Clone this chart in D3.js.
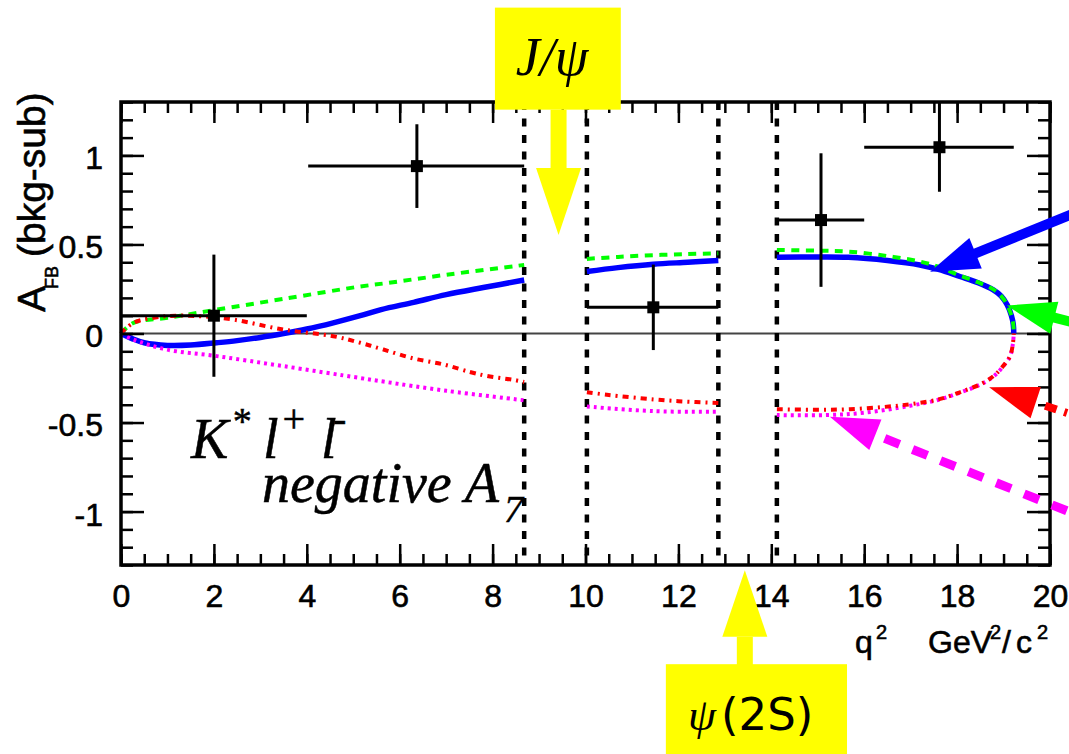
<!DOCTYPE html>
<html>
<head>
<meta charset="utf-8">
<script src="https://cdn.jsdelivr.net/npm/d3@7"></script>
<style>
body { margin: 0; background: #fff; }
svg { display: block; }
</style>
</head>
<body>
<svg width="1069" height="754"></svg>
<script>
// measured A_FB bins (bkg subtracted)
var binQ2  = [2.0, 6.37, 11.46, 15.07, 17.62];
var binLo  = [0.0, 4.03, 10.03, 14.12, 16.0];
var binHi  = [4.0, 8.68, 12.86, 16.0, 19.22];
var binAfb = [0.10, 0.94, 0.147, 0.637, 1.046];
var binErr = [0.343, 0.235, 0.24, 0.375, 0.25];

// charmonium veto boundaries
var vetoQ2 = [8.68, 10.03, 12.86, 14.12];

// model curves, null = gap at the vetoes
var qBlue   = [0, 0.25, 0.5, 1.0, 1.5, 2.06, 2.5, 3.0, 3.5, 4.0, 4.57, 5.15, 5.6, 6.3, 7.0, 7.8, 8.68, null,
               10.03, 10.7, 11.46, 12.2, 12.86, null,
               14.12, 15.0, 15.66, 16.5, 17.2, 17.6, 18.06, 18.45, 18.78, 18.95, 19.08, 19.17, 19.21, 19.22];
var afbBlue = [0, -0.03, -0.052, -0.067, -0.065, -0.052, -0.04, -0.022, 0.0, 0.025, 0.06, 0.10, 0.134, 0.175, 0.218, 0.258, 0.30, null,
               0.348, 0.37, 0.389, 0.40, 0.41, null,
               0.428, 0.43, 0.428, 0.41, 0.385, 0.36, 0.32, 0.285, 0.245, 0.21, 0.16, 0.10, 0.05, 0.0];

var qGreen   = [0, 0.27, 1.0, 2.06, 3.49, 5.15, 5.72, 7.01, 8.68, null,
                10.03, 10.7, 11.46, 12.2, 12.86, null,
                14.12, 15.0, 15.66, 16.5, 17.2, 17.6, 18.06, 18.45, 18.78, 18.95, 19.08, 19.17, 19.21, 19.22];
var afbGreen = [0, 0.06, 0.088, 0.134, 0.194, 0.264, 0.283, 0.33, 0.385, null,
                0.419, 0.43, 0.44, 0.446, 0.45, null,
                0.469, 0.465, 0.46, 0.435, 0.404, 0.375, 0.325, 0.288, 0.248, 0.21, 0.16, 0.10, 0.05, 0.0];

var qRed   = [0, 0.27, 0.98, 1.7, 2.42, 3.49, 4.57, 5.15, 5.65, 6.29, 6.93, 7.51, 7.87, 8.44, 8.68, null,
              10.03, 10.5, 11.46, 12.0, 12.86, null,
              14.12, 15.0, 15.69, 16.4, 16.99, 17.6, 18.06, 18.5, 18.78, 19.0, 19.14, 19.2, 19.22];
var afbRed = [0, 0.06, 0.097, 0.097, 0.078, 0.022, -0.015, -0.052, -0.09, -0.14, -0.173, -0.216, -0.238, -0.26, -0.272, null,
              -0.33, -0.345, -0.37, -0.38, -0.39, null,
              -0.425, -0.428, -0.425, -0.413, -0.397, -0.37, -0.33, -0.285, -0.24, -0.18, -0.127, -0.06, 0];

var qMag   = [0, 0.27, 0.98, 2.06, 3.49, 5.15, 5.65, 7.01, 8.68, null,
              10.03, 11.46, 12.86, null,
              14.12, 15.19, 16.0, 16.99, 17.6, 18.06, 18.5, 18.78, 19.0, 19.14, 19.2, 19.22];
var afbMag = [0, -0.034, -0.09, -0.127, -0.183, -0.25, -0.27, -0.322, -0.375, null,
              -0.41, -0.436, -0.44, null,
              -0.458, -0.458, -0.445, -0.406, -0.372, -0.332, -0.287, -0.242, -0.182, -0.128, -0.06, 0];

// pointer arrows on the right (tip, tail) in q2 / A_FB units
var arrowTips  = [[17.42, 0.347], [19.07, 0.157], [18.69, -0.302], [15.26, -0.467]];
var arrowTails = [[20.54, 0.677], [20.54, 0.059], [20.54, -0.461], [20.54, -1.014]];

var xTicks = [0, 2, 4, 6, 8, 10, 12, 14, 16, 18, 20];
var yTicks = [-1, -0.5, 0, 0.5, 1];

var svg = d3.select("svg");
var padL = 121, padR = 1050, padT = 102, padB = 565;

var x = d3.scaleLinear().domain([0, 20]).range([padL, padR]);
var y = d3.scaleLinear().domain([-1.3, 1.3]).range([padB, padT]);

var sans = "'Liberation Sans', Arial, Helvetica, sans-serif";
var serif = "'Liberation Serif', 'Times New Roman', serif";

// zero line
svg.append("line")
   .attr("x1", x(0)).attr("x2", x(20))
   .attr("y1", y(0)).attr("y2", y(0))
   .attr("stroke", "#444").attr("stroke-width", 1.8);

// veto lines
svg.selectAll(".veto")
   .data(vetoQ2)
   .enter().append("line")
   .attr("class", "veto")
   .attr("x1", function(d) { return x(d); })
   .attr("x2", function(d) { return x(d); })
   .attr("y1", padT).attr("y2", padB)
   .attr("stroke", "#000").attr("stroke-width", 4.5)
   .attr("stroke-dasharray", "8,8.5");

// curves
var line = d3.line()
    .defined(function(d) { return d[0] !== null; })
    .x(function(d) { return x(d[0]); })
    .y(function(d) { return y(d[1]); })
    .curve(d3.curveCatmullRom.alpha(0.5));

function drawCurve(q, a, color, width, dash) {
    svg.append("path")
       .datum(d3.zip(q, a))
       .attr("d", line)
       .attr("fill", "none")
       .attr("stroke", color)
       .attr("stroke-width", width)
       .attr("stroke-dasharray", dash);
}
drawCurve(qBlue, afbBlue, "#0000ff", 5.5, null);
drawCurve(qGreen, afbGreen, "#00ff00", 4, "8,6.5");
drawCurve(qMag, afbMag, "#ff00ff", 4, "3,4");
drawCurve(qRed, afbRed, "#ff0000", 4, "6,5,2,5");

// data points with error bars
var pts = svg.append("g");
binQ2.forEach(function(q, i) {
    pts.append("line")
       .attr("x1", x(binLo[i])).attr("x2", x(binHi[i]))
       .attr("y1", y(binAfb[i])).attr("y2", y(binAfb[i]))
       .attr("stroke", "#000").attr("stroke-width", 3);
    pts.append("line")
       .attr("x1", x(q)).attr("x2", x(q))
       .attr("y1", y(binAfb[i] + binErr[i])).attr("y2", y(binAfb[i] - binErr[i]))
       .attr("stroke", "#000").attr("stroke-width", 3);
    pts.append("rect")
       .attr("x", x(q) - 6).attr("y", y(binAfb[i]) - 6)
       .attr("width", 12).attr("height", 12)
       .attr("fill", "#000");
});

// frame + ticks
function minor(lo, hi, step) {
    var out = [];
    for (var v = lo; v <= hi + 1e-9; v += step) out.push(+v.toFixed(2));
    return out;
}
var xMinor = minor(0, 20, 0.5), yMinor = minor(-1.3, 1.3, 0.1);

function axisStyle(g) {
    g.select(".domain").remove();
    g.attr("font-family", sans).attr("font-size", 32);
    g.selectAll("line").attr("stroke", "#000").attr("stroke-width", 2.5);
    g.selectAll("text").attr("fill", "#000").attr("stroke", "#000").attr("stroke-width", 0.6);
}
var fmt = function(d) { return String(d); };

svg.append("g").attr("transform", "translate(0," + padB + ")")
   .call(d3.axisBottom(x).tickValues(xMinor).tickSize(-11).tickFormat(""))
   .call(axisStyle);
svg.append("g").attr("transform", "translate(0," + padB + ")")
   .call(d3.axisBottom(x).tickValues(xTicks).tickSize(-21).tickPadding(19).tickFormat(fmt))
   .call(axisStyle);
svg.append("g").attr("transform", "translate(0," + padT + ")")
   .call(d3.axisTop(x).tickValues(xMinor).tickSize(-11).tickFormat(""))
   .call(axisStyle);
svg.append("g").attr("transform", "translate(0," + padT + ")")
   .call(d3.axisTop(x).tickValues(xTicks).tickSize(-21).tickFormat(""))
   .call(axisStyle);

svg.append("g").attr("transform", "translate(" + padL + ",0)")
   .call(d3.axisLeft(y).tickValues(yMinor).tickSize(-12).tickFormat(""))
   .call(axisStyle);
var yl = svg.append("g").attr("transform", "translate(" + padL + ",0)")
   .call(d3.axisLeft(y).tickValues(yTicks).tickSize(-23).tickPadding(18).tickFormat(fmt))
   .call(axisStyle);
yl.selectAll("text").attr("dy", "0.42em");
svg.append("g").attr("transform", "translate(" + padR + ",0)")
   .call(d3.axisRight(y).tickValues(yMinor).tickSize(-12).tickFormat(""))
   .call(axisStyle);
svg.append("g").attr("transform", "translate(" + padR + ",0)")
   .call(d3.axisRight(y).tickValues(yTicks).tickSize(-23).tickFormat(""))
   .call(axisStyle);

svg.append("rect")
   .attr("x", padL).attr("y", padT)
   .attr("width", padR - padL).attr("height", padB - padT)
   .attr("fill", "none").attr("stroke", "#000").attr("stroke-width", 3.5);

// axis titles
var yt = svg.append("text")
   .attr("transform", "translate(45,312) rotate(-90)")
   .attr("font-family", sans).attr("font-size", 39).attr("fill", "#000")
   .attr("stroke", "#000").attr("stroke-width", 0.6);
yt.append("tspan").attr("x", 0).attr("y", 0).text("A");
yt.append("tspan").attr("x", 23).attr("y", 13).attr("font-size", 18).text("FB");
yt.append("tspan").attr("x", 55).attr("y", 0).text("(bkg-sub)");

var xt = svg.append("text").attr("font-family", sans).attr("font-size", 32).attr("fill", "#000")
   .attr("stroke", "#000").attr("stroke-width", 0.6);
xt.append("tspan").attr("x", 855).attr("y", 653).text("q");
xt.append("tspan").attr("x", 876).attr("y", 639).attr("font-size", 20).text("2");
xt.append("tspan").attr("x", 928).attr("y", 653).text("GeV");
xt.append("tspan").attr("x", 990).attr("y", 639).attr("font-size", 20).text("2");
xt.append("tspan").attr("x", 1002).attr("y", 653).text("/");
xt.append("tspan").attr("x", 1016).attr("y", 653).text("c");
xt.append("tspan").attr("x", 1037).attr("y", 639).attr("font-size", 20).text("2");

// in-plot labels
var lab = svg.append("g").attr("font-family", serif).attr("font-style", "italic")
   .attr("fill", "#000").attr("stroke", "#000").attr("stroke-width", 0.5);
lab.append("text").attr("x", 191).attr("y", 458).attr("font-size", 56).text("K");
lab.append("text").attr("x", 231).attr("y", 434).attr("font-size", 38).text("*");
lab.append("text").attr("x", 263).attr("y", 458).attr("font-size", 56).text("l");
lab.append("text").attr("x", 280).attr("y", 432).attr("font-size", 40).text("+");
lab.append("text").attr("x", 321).attr("y", 458).attr("font-size", 56).text("l");
lab.append("text").attr("x", 333).attr("y", 432).attr("font-size", 40).text("-");
lab.append("text").attr("x", 262).attr("y", 502).attr("font-size", 56).text("negative A");
lab.append("text").attr("x", 504).attr("y", 522).attr("font-size", 38).text("7");

// coloured pointer arrows
var arrowStyle = [
    {color: "#0000ff", width: 10, dash: null, offset: 0},
    {color: "#00ff00", width: 10, dash: null, offset: 0},
    {color: "#ff0000", width: 8, dash: "0,14,12,8,3,8", offset: 0},
    {color: "#ff00ff", width: 9, dash: "16,14", offset: 16}
];
arrowTips.forEach(function(t, i) {
    var px = x(t[0]), py = y(t[1]);
    var qx = x(arrowTails[i][0]), qy = y(arrowTails[i][1]);
    var len = Math.hypot(qx - px, qy - py);
    var ux = (qx - px) / len, uy = (qy - py) / len;
    var bx = px + 49 * ux, by = py + 49 * uy;
    var s = arrowStyle[i];
    svg.append("line")
       .attr("x1", bx - 4 * ux).attr("y1", by - 4 * uy)
       .attr("x2", qx).attr("y2", qy)
       .attr("stroke", s.color).attr("stroke-width", s.width)
       .attr("stroke-dasharray", s.dash).attr("stroke-dashoffset", s.offset);
    svg.append("polygon")
       .attr("points", [[px, py], [bx - 16.5 * uy, by + 16.5 * ux], [bx + 16.5 * uy, by - 16.5 * ux]].join(" "))
       .attr("fill", s.color);
});

// yellow resonance call-outs
function callout(cx, boxX0, boxX1, boxY0, boxY1, baseY, tipY) {
    var g = svg.append("g").attr("fill", "#ffff00");
    g.append("rect")
     .attr("x", x(boxX0)).attr("y", Math.min(y(boxY0), y(boxY1)))
     .attr("width", x(boxX1) - x(boxX0)).attr("height", Math.abs(y(boxY1) - y(boxY0)));
    g.append("rect")
     .attr("x", x(cx) - 8).attr("y", Math.min(y(boxY1), y(baseY)))
     .attr("width", 16).attr("height", Math.abs(y(baseY) - y(boxY1)) + 1);
    g.append("polygon")
     .attr("points", [[x(cx) - 22.5, y(baseY)], [x(cx) + 22.5, y(baseY)], [x(cx), y(tipY)]].join(" "));
    return g;
}
var jp = callout(9.42, 8.05, 10.76, 1.83, 1.257, 0.929, 0.553);
jp.append("text").attr("x", 552).attr("y", 75)
  .attr("text-anchor", "middle").attr("font-family", serif).attr("font-style", "italic")
  .attr("font-size", 54).attr("fill", "#000").text("J/ψ");

var ps = callout(13.43, 11.73, 15.63, -1.857, -2.4, -1.703, -1.329);
var pt = ps.append("text").attr("x", 688).attr("y", 730).attr("font-size", 45).attr("fill", "#000");
pt.append("tspan").attr("font-family", serif).attr("font-style", "italic").text("ψ");
pt.append("tspan").attr("x", 721).attr("font-family", "'DejaVu Sans', Verdana, sans-serif").text("(2S)");
</script>
</body>
</html>
